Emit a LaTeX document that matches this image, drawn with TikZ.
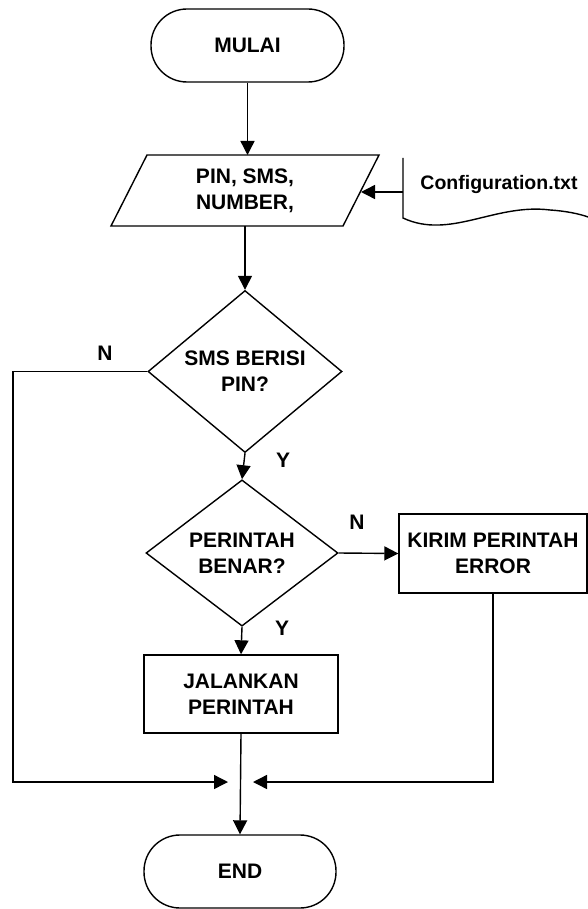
\documentclass[tikz,border=0pt]{standalone}
\usepackage{fontspec}
\setmainfont{Liberation Sans}
\usetikzlibrary{arrows.meta,shapes.geometric,calc}
\begin{document}
\begin{tikzpicture}[x=1pt,y=-1pt,
  line width=1.4pt,
  every node/.style={font=\fontsize{21}{26}\selectfont\bfseries, align=center},
  terminal/.style={draw, rounded corners=36pt, minimum width=193pt, minimum height=73pt, inner sep=0pt},
  decision/.style={draw, diamond, minimum width=194pt, minimum height=144pt, inner sep=0pt},
  process/.style={draw, rectangle, inner sep=2pt},
  lbl/.style={inner sep=0pt},
  arr/.style={-{Triangle[length=14pt,width=14pt]}}
]
\useasboundingbox (0,0) rectangle (588,909);

% start / end
\node[terminal] (start) at (247.5,45.5) {MULAI};
\node[terminal, minimum width=192pt] (finish) at (240,871.5) {END};

% input / output parallelogram
\coordinate (ioTL) at (147,155);
\coordinate (ioTR) at (379,155);
\coordinate (ioBR) at (343,226);
\coordinate (ioBL) at (111,226);
\draw (ioTL) -- (ioTR) -- (ioBR) -- (ioBL) -- cycle;
\node (io) at (245,190.5) {PIN, SMS,\\NUMBER,};
\coordinate (ioR) at (361,192);

% configuration file (document shape)
\coordinate (cfgTop) at (403,158);
\coordinate (cfgL) at (403,192);
\coordinate (cfgBL) at (403,218);
\draw (cfgTop) -- (cfgBL)
  .. controls (450,240) and (495,203) .. (550,210)
  .. controls (566,211) and (580,214) .. (588,217);
\node[font=\fontsize{19.5}{24}\selectfont\bfseries] (cfg) at (499,185) {Configuration.txt};

% decisions
\node[decision] (d1) at (245,371.5) {SMS BERISI\\PIN?};
\node[decision, minimum width=192pt] (d2) at (242,553) {PERINTAH\\BENAR?};

% processes
\node[process, minimum width=194pt, minimum height=78pt] (jal) at (241,694) {JALANKAN\\PERINTAH};
\node[process, minimum width=188pt, minimum height=79pt] (err) at (493,553.5) {KIRIM PERINTAH\\ERROR};

% merge points
\coordinate (lx) at (13,782);
\coordinate (mL) at (228,782);
\coordinate (mR) at (253,782);

% connectors
\draw[arr] (start.south) -- (start.south |- ioTL);
\draw[arr] (cfgL) -- (ioR);
\draw[arr] (d1.north |- ioBL) -- (d1.north);
\draw[arr] (d1.south) -- (d2.north);
\draw[arr] (d1.west) -| (lx) -- (mL);
\draw[arr] (d2.east) -- (err.west);
\draw[arr] (d2.south) -- (jal.north);
\draw[arr] (err.south) |- (mR);
\draw[arr] (jal.south) -- (finish.north);

% branch labels
\node[lbl] (n1) at (105,353) {N};
\node[lbl] (y1) at (283,460) {Y};
\node[lbl] (n2) at (357,522) {N};
\node[lbl] (y2) at (282,628) {Y};
\end{tikzpicture}
\end{document}
